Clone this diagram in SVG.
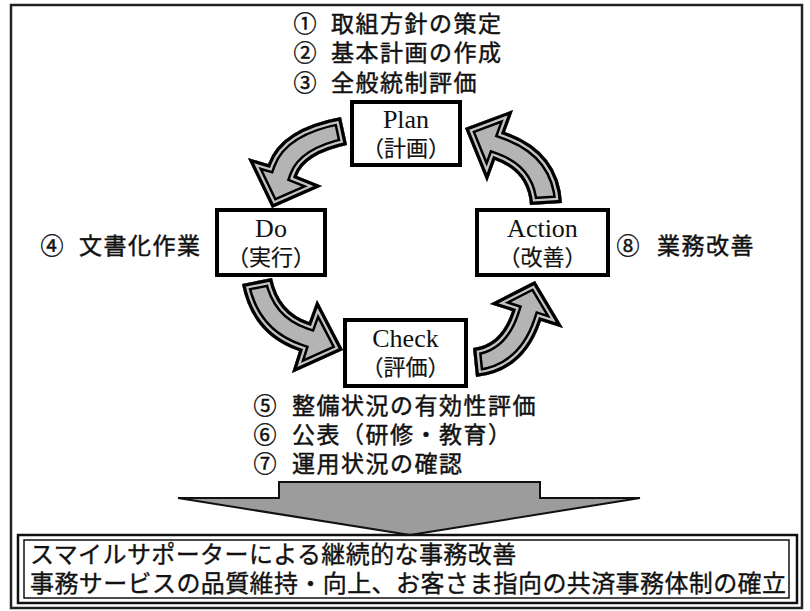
<svg xmlns="http://www.w3.org/2000/svg" width="810" height="611" viewBox="0 0 810 611">
<style>
.jp{font-family:'Noto Sans CJK JP','Noto Sans CJK SC',sans-serif;fill:#111;}
.item{font-size:23px;letter-spacing:1.5px;stroke:#111;stroke-width:0.45px;}
.en{font-family:'Liberation Serif',serif;font-size:26px;fill:#111;text-anchor:middle;}
.sub{font-family:'Noto Sans CJK JP',sans-serif;font-size:22px;fill:#111;text-anchor:middle;stroke:#111;stroke-width:0.2px;}
.box{fill:#fff;stroke:#000;stroke-width:4;}
.res{font-size:24px;letter-spacing:0.4px;stroke:#111;stroke-width:0.35px;}
</style>
<defs>
<path id="a1" d="M 341 117 Q 281 128 268 164 L 248 158 L 272 208 L 322 186 L 297 176 Q 305 154 347 145 Z"/>
<path id="a2" d="M 272 278 Q 279 312 309 322 L 317 300 L 343 350 L 292 373 L 299 351 Q 252 335 242 284 Z"/>
<path id="a3" d="M 473 348 Q 501 345 512 311 L 490 304 L 535 281 L 563 328 L 541 321 Q 524 372 476 377 Z"/>
<path id="a4" d="M 530 205 Q 528 172 495 160 L 487 182 L 465 128 L 513 110 L 505 132 Q 559 151 562 203 Z"/>
<clipPath id="c1"><use href="#a1"/></clipPath>
<clipPath id="c2"><use href="#a2"/></clipPath>
<clipPath id="c3"><use href="#a3"/></clipPath>
<clipPath id="c4"><use href="#a4"/></clipPath>
</defs>

<rect x="11" y="5" width="791" height="603" fill="#fff" stroke="#222" stroke-width="2.5"/>

<g id="connectors">
  <g clip-path="url(#c1)">
    <use href="#a1" fill="#b4b4b4"/>
    <use href="#a1" fill="none" stroke="#000" stroke-width="16"/>
    <use href="#a1" fill="none" stroke="#c4c4c4" stroke-width="11"/>
    <use href="#a1" fill="none" stroke="#000" stroke-width="6.5"/>
  </g>
  <g clip-path="url(#c2)">
    <use href="#a2" fill="#b4b4b4"/>
    <use href="#a2" fill="none" stroke="#000" stroke-width="16"/>
    <use href="#a2" fill="none" stroke="#c4c4c4" stroke-width="11"/>
    <use href="#a2" fill="none" stroke="#000" stroke-width="6.5"/>
  </g>
  <g clip-path="url(#c3)">
    <use href="#a3" fill="#b4b4b4"/>
    <use href="#a3" fill="none" stroke="#000" stroke-width="16"/>
    <use href="#a3" fill="none" stroke="#c4c4c4" stroke-width="11"/>
    <use href="#a3" fill="none" stroke="#000" stroke-width="6.5"/>
  </g>
  <g clip-path="url(#c4)">
    <use href="#a4" fill="#b4b4b4"/>
    <use href="#a4" fill="none" stroke="#000" stroke-width="16"/>
    <use href="#a4" fill="none" stroke="#c4c4c4" stroke-width="11"/>
    <use href="#a4" fill="none" stroke="#000" stroke-width="6.5"/>
  </g>
  <polygon id="result-arrow" points="279,482 540,482 540,498 640,498 410,535 178,498 279,498" fill="#9c9c9c" stroke="#111" stroke-width="2" stroke-linejoin="miter"/>
</g>

<g id="plan-notes">
  <text class="jp item"><tspan x="293.5" y="31.5">①</tspan><tspan x="331" y="31.5">取組方針の策定</tspan><tspan x="293.5" y="61">②</tspan><tspan x="331" y="61">基本計画の作成</tspan><tspan x="293.5" y="90.5">③</tspan><tspan x="331" y="90.5">全般統制評価</tspan></text>
</g>

<g id="plan">
  <rect class="box" x="352" y="102" width="108" height="63"/>
  <text class="en" x="406" y="128">Plan</text>
  <text class="sub" x="406" y="156">（計画）</text>
</g>

<g id="do">
  <rect class="box" x="217" y="210" width="108" height="65"/>
  <text class="en" x="271" y="237">Do</text>
  <text class="sub" x="271" y="265">（実行）</text>
</g>

<g id="action">
  <rect class="box" x="477" y="210" width="131" height="65"/>
  <text class="en" x="542.5" y="237">Action</text>
  <text class="sub" x="542.5" y="265">（改善）</text>
</g>

<g id="check">
  <rect class="box" x="345" y="320" width="121" height="66"/>
  <text class="en" x="405.5" y="346.5">Check</text>
  <text class="sub" x="405.5" y="375">（評価）</text>
</g>

<g id="do-note">
  <text class="jp item"><tspan x="40.5" y="254">④</tspan><tspan x="79" y="254">文書化作業</tspan></text>
</g>

<g id="action-note">
  <text class="jp item"><tspan x="616.5" y="254">⑧</tspan><tspan x="657" y="254">業務改善</tspan></text>
</g>

<g id="check-notes">
  <text class="jp item"><tspan x="253.5" y="414">⑤</tspan><tspan x="292" y="414">整備状況の有効性評価</tspan><tspan x="253.5" y="443">⑥</tspan><tspan x="292" y="443">公表（研修・教育）</tspan><tspan x="253.5" y="472">⑦</tspan><tspan x="292" y="472">運用状況の確認</tspan></text>
</g>

<g id="result">
  <rect x="18" y="535" width="779" height="68" fill="#fff" stroke="#111" stroke-width="2.5"/>
  <rect x="24" y="540" width="765" height="58" fill="none" stroke="#111" stroke-width="1.5"/>
  <text class="jp res"><tspan x="30" y="563">スマイルサポーターによる継続的な事務改善</tspan><tspan x="30" y="592">事務サービスの品質維持・向上、お客さま指向の共済事務体制の確立</tspan></text>
</g>
</svg>
